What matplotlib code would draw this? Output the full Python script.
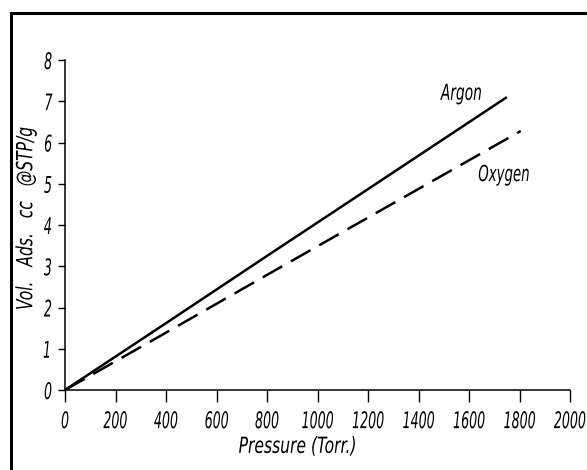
import matplotlib
matplotlib.use('Agg')
import matplotlib.pyplot as plt
from matplotlib.patches import Rectangle
from matplotlib.patheffects import AbstractPathEffect
from matplotlib.transforms import Affine2D

# adsorption isotherms, volume adsorbed vs pressure
pressure_ar = [0, 400, 800, 1200, 1750]
vol_ar = [0, 1.62, 3.25, 4.87, 7.10]
pressure_o2 = [0, 400, 800, 1200, 1805]
vol_o2 = [0, 1.39, 2.79, 4.18, 6.28]

xticks = [0, 200, 400, 600, 800, 1000, 1200, 1400, 1600, 1800, 2000]
yticks = [0, 1, 2, 3, 4, 5, 6, 7, 8]


class Squeeze(AbstractPathEffect):
    """narrow the glyphs along the text direction (condensed look)"""
    def __init__(self, sx, frac=0.5):
        super().__init__()
        self.sx = sx
        self.frac = frac

    def draw_path(self, renderer, gc, tpath, affine, rgbFace=None):
        ext = tpath.get_extents()
        x0 = ext.x0 + self.frac * ext.width
        pre = Affine2D().translate(-x0, 0).scale(self.sx, 1).translate(x0, 0)
        renderer.draw_path(gc, tpath, pre + affine, rgbFace)


plt.rcParams['font.family'] = ['DejaVu Sans']
plt.rcParams['font.style'] = 'italic'

W, H = 587, 470
fig = plt.figure(figsize=(W / 100, H / 100), dpi=100)

# border round the page (runs off the right and bottom edges)
fig.patches.append(Rectangle((11 / W, -0.1), 1.2, (H - 13) / H + 0.1,
                             transform=fig.transFigure, fill=False,
                             edgecolor='black', linewidth=2.2))

ax = fig.add_axes([65 / W, (H - 390) / H, 505 / W, 330 / H])
ax.plot(pressure_ar, vol_ar, color='black', lw=1.8, solid_capstyle='butt')
ax.plot(pressure_o2, vol_o2, color='black', lw=1.8, dashes=(9, 4))

ax.set_xlim(0, 2000)
ax.set_ylim(0, 8)
ax.set_xticks(xticks)
ax.set_yticks(yticks)
ax.spines['top'].set_visible(False)
ax.spines['right'].set_visible(False)
for s in ('left', 'bottom'):
    ax.spines[s].set_linewidth(1.1)
ax.tick_params(axis='x', length=8.5, width=1.0, pad=6, labelsize=16.5)
ax.tick_params(axis='y', length=5, width=1.0, pad=4, labelsize=16.5)
for lab in ax.get_xticklabels():
    lab.set_fontstyle('italic')
    lab.set_path_effects([Squeeze(0.55, 0.5)])
for lab in ax.get_yticklabels():
    lab.set_fontstyle('italic')
    lab.set_path_effects([Squeeze(0.55, 1.0)])

xl = ax.set_xlabel('Pressure (Torr.)', fontsize=16, style='italic')
xl.set_path_effects([Squeeze(0.7)])
ax.xaxis.set_label_coords((298 - 65) / 505, -0.142)

yl = ax.set_ylabel('Vol.   Ads.   cc   @STP/g', fontsize=16, style='italic')
yl.set_path_effects([Squeeze(0.7)])
ax.yaxis.set_label_coords(-0.057, 0.521)

t1 = ax.text(1572, 7.18, 'Argon', fontsize=16, style='italic', ha='center', va='center')
t2 = ax.text(1739, 5.21, 'Oxygen', fontsize=16, style='italic', ha='center', va='center')
t1.set_path_effects([Squeeze(0.62)])
t2.set_path_effects([Squeeze(0.6)])

fig.savefig('out.png', dpi=100)
